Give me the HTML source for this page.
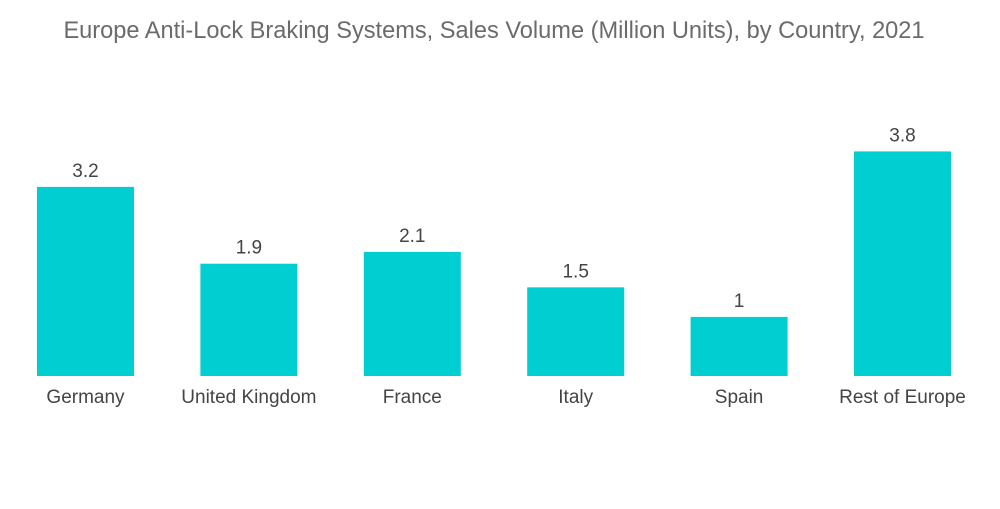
<!DOCTYPE html>
<html><head><meta charset="utf-8"><style>
body{margin:0;background:#fff;width:1000px;height:504px;overflow:hidden;font-family:"Liberation Sans",sans-serif;}
</style></head><body>
<svg id="chart" width="1000" height="504" xmlns="http://www.w3.org/2000/svg">
<text x="494" y="38" text-anchor="middle" font-size="23.6" fill="#6b6b6b" font-family="Liberation Sans, sans-serif">Europe Anti-Lock Braking Systems, Sales Volume (Million Units), by Country, 2021</text>
<g id="bars"></g>
</svg>
<script>
const categories=["Germany","United Kingdom","France","Italy","Spain","Rest of Europe"];
const values=[3.2,1.9,2.1,1.5,1,3.8];
const valueLabels=["3.2","1.9","2.1","1.5","1","3.8"];
const baseY=376, unit=59.1, x0=37, step=163.4, bw=97;
const yScale=v=>baseY-v*unit;
const xScale=i=>x0+i*step;
const g=document.getElementById('bars');
const NS="http://www.w3.org/2000/svg";
categories.forEach((c,i)=>{
  const r=document.createElementNS(NS,'rect');
  
  
  r.setAttribute('x',xScale(i));r.setAttribute('y',yScale(values[i]));
  r.setAttribute('width',bw);r.setAttribute('height',baseY-yScale(values[i]));
  r.setAttribute('fill','#00ced1');g.appendChild(r);
  const t=document.createElementNS(NS,'text');
  
  
  t.setAttribute('x',xScale(i)+bw/2);t.setAttribute('y',yScale(values[i])-10);
  t.setAttribute('text-anchor','middle');t.setAttribute('font-size','19');t.setAttribute('fill','#444');
  t.textContent=valueLabels[i];g.appendChild(t);
  const l=document.createElementNS(NS,'text');
  
  
  l.setAttribute('x',xScale(i)+bw/2);l.setAttribute('y',403);
  l.setAttribute('text-anchor','middle');l.setAttribute('font-size','19');l.setAttribute('fill','#444');
  l.textContent=c;g.appendChild(l);
});
</script>
</body></html>
